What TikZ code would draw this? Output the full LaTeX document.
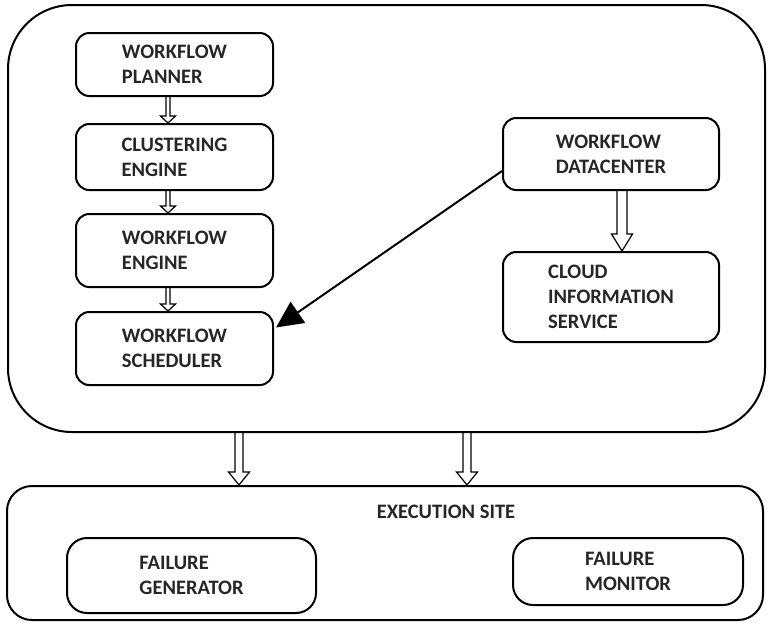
\documentclass[tikz,border=0pt]{standalone}
\usepackage{fontspec}
\setmainfont{Carlito}
\usetikzlibrary{arrows.meta,calc}

% Outline of a vertical block arrow: #1 start, #2 tip,
% #3 shaft half-width, #4 head half-width, #5 head length (picture units)
\newcommand\blockarrow[5]{%
  \draw[blockline] ($(#1)+(-#3,0)$) -- ($(#2)+(-#3,-#5)$) -- ($(#2)+(-#4,-#5)$)
    -- (#2) -- ($(#2)+(#4,-#5)$) -- ($(#2)+(#3,-#5)$) -- ($(#1)+(#3,0)$);}

\begin{document}
\begin{tikzpicture}[x=0.75pt,y=-0.75pt,
  every node/.style={font=\fontsize{15.4}{18.75}\selectfont\bfseries},
  unit/.style={draw, line width=1.5pt, rounded corners=10pt, align=left,
    inner sep=0pt, text=black!85},
  frame/.style={draw, line width=1.5pt, inner sep=0pt},
  blockline/.style={line width=0.9pt, line join=miter},
  link/.style={line width=1.5pt, -{Triangle[length=20pt,width=19pt]}}]
\useasboundingbox (0,0) rectangle (768,622);

% enclosing frames
\node[frame, rounded corners=48pt, minimum width=567.75pt, minimum height=320.25pt]
  (main) at (386.5,218.5) {};
\node[frame, rounded corners=18.75pt, minimum width=567pt, minimum height=100.5pt]
  (site) at (385,553) {};

% workflow chain
\node[unit, minimum width=147.75pt, minimum height=47.25pt] (planner) at (174.5,64.5)
  {WORKFLOW\\PLANNER};
\node[unit, minimum width=147.75pt, minimum height=49.5pt] (cluster) at (174.5,157)
  {CLUSTERING\\ENGINE};
\node[unit, minimum width=147.75pt, minimum height=54.75pt] (engine) at (174.5,250.5)
  {WORKFLOW\\ENGINE};
\node[unit, minimum width=147.75pt, minimum height=54.75pt] (sched) at (174.5,348.5)
  {WORKFLOW\\SCHEDULER};

% datacenter side
\node[unit, minimum width=162pt, minimum height=54pt] (dc) at (611,154)
  {WORKFLOW\\DATACENTER};
\node[unit, minimum width=162pt, minimum height=67.5pt] (cis) at (611,297)
  {CLOUD\\INFORMATION\\SERVICE};

% execution site
\node[text=black!85] (sitelabel) at (446,512) {EXECUTION SITE};
\node[unit, rounded corners=15pt, minimum width=186.75pt, minimum height=56.25pt]
  (gen) at (191.5,575.5) {FAILURE\\GENERATOR};
\node[unit, rounded corners=15pt, minimum width=172.5pt, minimum height=50.25pt]
  (mon) at (628,571.5) {FAILURE\\MONITOR};

% hollow arrows along the chain
\coordinate (p1) at ($(planner.south)+(-6.5,0)$);
\coordinate (c1) at ($(cluster.north)+(-6.5,0)$);
\coordinate (c2) at ($(cluster.south)+(-6.5,0)$);
\coordinate (e1) at ($(engine.north)+(-6.5,0)$);
\coordinate (e2) at ($(engine.south)+(-6.5,0)$);
\coordinate (s1) at ($(sched.north)+(-6.5,0)$);
\blockarrow{p1}{c1}{2}{7.5}{7}
\blockarrow{c2}{e1}{2}{7.5}{7}
\blockarrow{e2}{s1}{2}{7.5}{7}

% datacenter to information service
\coordinate (d1) at ($(dc.south)+(11,0)$);
\coordinate (d2) at ($(cis.north)+(11,0)$);
\blockarrow{d1}{d2}{5}{10.5}{17}

% datacenter to scheduler
\draw[link] ($(dc.west)+(0,17)$) -- ($(sched.east)+(2,-21)$);

% frame to execution site
\coordinate (m1) at ($(main.south)+(-147.5,0)$);
\coordinate (m2) at ($(main.south)+(80.5,0)$);
\coordinate (t1) at (m1 |- site.north);
\coordinate (t2) at (m2 |- site.north);
\blockarrow{m1}{t1}{4}{10.5}{13}
\blockarrow{m2}{t2}{4}{10.5}{13}
\end{tikzpicture}
\end{document}
